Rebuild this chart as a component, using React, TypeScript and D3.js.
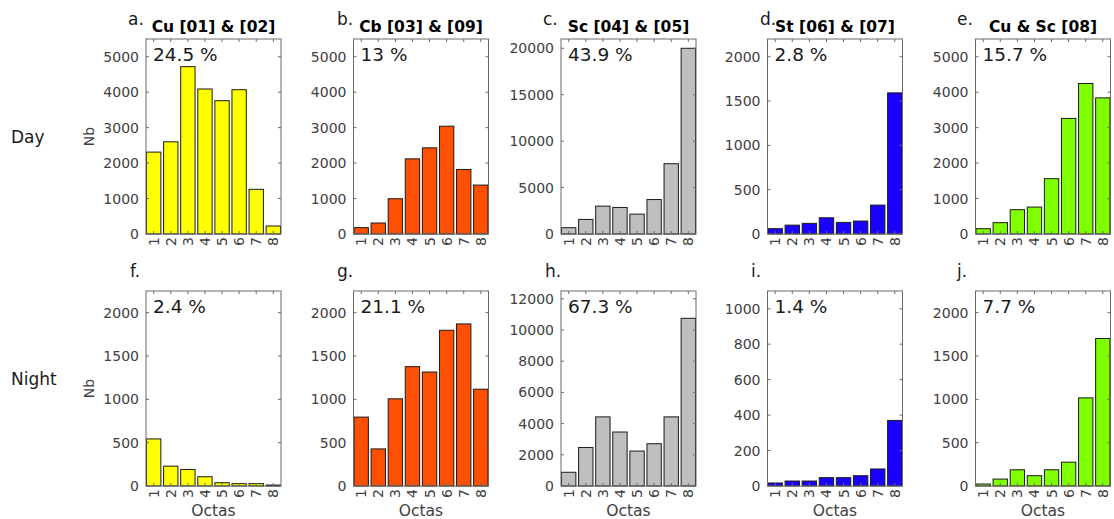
import React from 'react';
import * as d3 from 'd3';

// ---------- data ----------
const OCTAS = ['1', '2', '3', '4', '5', '6', '7', '8'];
const TITLES = ['Cu [01] & [02]', 'Cb [03] & [09]', 'Sc [04] & [05]', 'St [06] & [07]', 'Cu & Sc [08]'];
const DAY_LETTERS = ['a.', 'b.', 'c.', 'd.', 'e.'];
const NIGHT_LETTERS = ['f.', 'g.', 'h.', 'i.', 'j.'];
const DAY_PCT = ['24.5 %', '13 %', '43.9 %', '2.8 %', '15.7 %'];
const NIGHT_PCT = ['2.4 %', '21.1 %', '67.3 %', '1.4 %', '7.7 %'];

const DAY_CU = [2310, 2600, 4720, 4090, 3760, 4070, 1260, 225];
const DAY_CB = [180, 310, 995, 2120, 2430, 3040, 1820, 1380];
const DAY_SC = [680, 1570, 3000, 2860, 2140, 3710, 7570, 20000];
const DAY_ST = [60, 100, 120, 183, 131, 146, 326, 1592];
const DAY_CUSC = [150, 320, 685, 760, 1560, 3260, 4245, 3840];

const NIGHT_CU = [543, 229, 191, 107, 38, 27, 27, 11];
const NIGHT_CB = [795, 428, 1006, 1377, 1315, 1797, 1870, 1117];
const NIGHT_SC = [880, 2470, 4430, 3460, 2240, 2710, 4430, 10750];
const NIGHT_ST = [17, 28, 28, 47, 47, 58, 96, 370];
const NIGHT_CUSC = [23, 80, 187, 119, 187, 275, 1017, 1702];

const DAY_YMAX = [5500, 5500, 21000, 2200, 5500];
const NIGHT_YMAX = [2250, 2250, 12500, 1100, 2250];
const DAY_TICKS = [
  [0, 1000, 2000, 3000, 4000, 5000],
  [0, 1000, 2000, 3000, 4000, 5000],
  [0, 5000, 10000, 15000, 20000],
  [0, 500, 1000, 1500, 2000],
  [0, 1000, 2000, 3000, 4000, 5000],
];
const NIGHT_TICKS = [
  [0, 500, 1000, 1500, 2000],
  [0, 500, 1000, 1500, 2000],
  [0, 2000, 4000, 6000, 8000, 10000, 12000],
  [0, 200, 400, 600, 800, 1000],
  [0, 500, 1000, 1500, 2000],
];
const COLORS = ['#ffff00', '#ff4f00', '#bfbfbf', '#1a00ff', '#80ff00'];
const ROW_LABELS = ['Day', 'Night'];

const DAY_DATA = [DAY_CU, DAY_CB, DAY_SC, DAY_ST, DAY_CUSC];
const NIGHT_DATA = [NIGHT_CU, NIGHT_CB, NIGHT_SC, NIGHT_ST, NIGHT_CUSC];

// ---------- layout ----------
const W = 1114;
const H = 519;
const AX_LEFT = [146, 353.5, 561, 767.5, 975.5];
const AX_W = 135;
const ROWS = [
  { top: 39, bottom: 234, letterY: 25, labelY: 143 },
  { top: 291, bottom: 486, letterY: 277, labelY: 385 },
];
const DAY_LETTER_X = [128, 337, 543, 760, 957];
const NIGHT_LETTER_X = [130, 337, 545, 751, 957];
const FONT = 'DejaVu Sans, sans-serif';
const TICK_FS = 14;

type PanelProps = {
  left: number;
  top: number;
  bottom: number;
  values: number[];
  ymax: number;
  ticks: number[];
  color: string;
  pct: string;
  title?: string;
  letter: string;
  letterX: number;
  letterY: number;
  showNb: boolean;
  showOctas: boolean;
};

function Panel(p: PanelProps) {
  const x = d3
    .scaleBand<string>()
    .domain(OCTAS)
    .range([p.left, p.left + AX_W])
    .paddingInner(0.16)
    .paddingOuter(0.03);
  const y = d3.scaleLinear().domain([0, p.ymax]).range([p.bottom, p.top]);
  const tl = 3;
  const right = p.left + AX_W;
  return (
    <g>
      {p.values.map((v, i) => (
        <rect
          key={i}
          x={x(OCTAS[i])}
          y={y(v)}
          width={x.bandwidth()}
          height={y(0) - y(v)}
          fill={p.color}
          stroke="#1a1a1a"
          strokeWidth={1}
        />
      ))}
      <rect x={p.left} y={p.top} width={AX_W} height={p.bottom - p.top} fill="none" stroke="#6a6a6a" strokeWidth={1} />
      {p.ticks.map((t) => (
        <g key={t}>
          <line x1={p.left} x2={p.left + tl} y1={y(t)} y2={y(t)} stroke="#6a6a6a" />
          <line x1={right} x2={right - tl} y1={y(t)} y2={y(t)} stroke="#6a6a6a" />
          <text
            x={p.left - 7}
            y={y(t)}
            textAnchor="end"
            dominantBaseline="central"
            fontFamily={FONT}
            fontSize={TICK_FS}
            fill="#404040"
          >
            {t}
          </text>
        </g>
      ))}
      {OCTAS.map((c) => {
        const cx = (x(c) as number) + x.bandwidth() / 2;
        return (
          <g key={c}>
            <line x1={cx} x2={cx} y1={p.top} y2={p.top + tl} stroke="#6a6a6a" />
            <line x1={cx} x2={cx} y1={p.bottom} y2={p.bottom - tl} stroke="#6a6a6a" />
            <text
              transform={`translate(${cx},${p.bottom + 3}) rotate(-90)`}
              textAnchor="end"
              dominantBaseline="central"
              fontFamily={FONT}
              fontSize={TICK_FS}
              fill="#404040"
            >
              {c}
            </text>
          </g>
        );
      })}
      <text x={p.left + 7} y={p.top + 22} fontFamily={FONT} fontSize={18.5} fill="#1a1a1a">
        {p.pct}
      </text>
      {p.title && (
        <text
          x={p.left + AX_W / 2}
          y={p.top - 7}
          textAnchor="middle"
          fontFamily={FONT}
          fontWeight="bold"
          fontSize={15.5}
          fill="#000"
        >
          {p.title}
        </text>
      )}
      <text x={p.letterX} y={p.letterY} fontFamily={FONT} fontSize={17} fill="#1a1a1a">
        {p.letter}
      </text>
      {p.showNb && (
        <text
          transform={`translate(${p.left - 57},${(p.top + p.bottom) / 2}) rotate(-90)`}
          textAnchor="middle"
          dominantBaseline="central"
          fontFamily={FONT}
          fontSize={14}
          fill="#404040"
        >
          Nb
        </text>
      )}
      {p.showOctas && (
        <text
          x={p.left + AX_W / 2}
          y={p.bottom + 30}
          textAnchor="middle"
          fontFamily={FONT}
          fontSize={15.5}
          fill="#404040"
        >
          Octas
        </text>
      )}
    </g>
  );
}

export default function App() {
  return (
    <svg
      width={W}
      height={H}
      style={{ position: 'absolute', left: 0, top: 0, background: '#fff' }}
    >
      <rect x={0} y={0} width={W} height={H} fill="#fff" />
      {[0, 1].map((r) => {
        const row = ROWS[r];
        const data = r === 0 ? DAY_DATA : NIGHT_DATA;
        const ymaxes = r === 0 ? DAY_YMAX : NIGHT_YMAX;
        const ticks = r === 0 ? DAY_TICKS : NIGHT_TICKS;
        const pcts = r === 0 ? DAY_PCT : NIGHT_PCT;
        const letters = r === 0 ? DAY_LETTERS : NIGHT_LETTERS;
        const lx = r === 0 ? DAY_LETTER_X : NIGHT_LETTER_X;
        return (
          <g key={r}>
            <text x={11} y={row.labelY} fontFamily={FONT} fontSize={17} fill="#1a1a1a">
              {ROW_LABELS[r]}
            </text>
            {data.map((vals, i) => (
              <Panel
                key={i}
                left={AX_LEFT[i]}
                top={row.top}
                bottom={row.bottom}
                values={vals}
                ymax={ymaxes[i]}
                ticks={ticks[i]}
                color={COLORS[i]}
                pct={pcts[i]}
                title={r === 0 ? TITLES[i] : undefined}
                letter={letters[i]}
                letterX={lx[i]}
                letterY={row.letterY}
                showNb={i === 0}
                showOctas={r === 1}
              />
            ))}
          </g>
        );
      })}
    </svg>
  );
}
